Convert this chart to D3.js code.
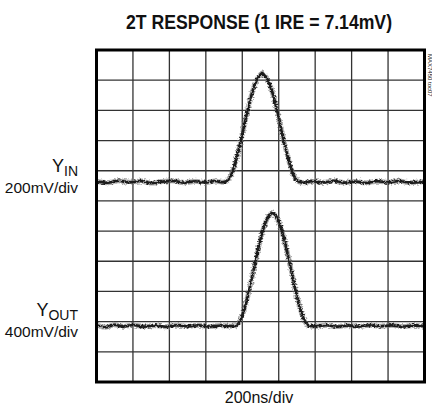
<!DOCTYPE html>
<html>
<head>
<meta charset="utf-8">
<script src="https://cdn.jsdelivr.net/npm/d3@7"></script>
<style>
  html, body { margin: 0; padding: 0; background: #fff; }
  svg { display: block; }
  text { font-family: "Liberation Sans Narrow", "Liberation Sans", sans-serif; fill: #111; }
</style>
</head>
<body>
<div id="chart"></div>
<script>
// data ++++++++++++++++++++++++++++++++++++++++++
// time in ns from the left edge of the screen, voltage in mV from each trace's baseline
const yinTime = [0, 60, 120, 180, 240, 300, 360, 420, 480, 540, 600, 650, 690, 710, 735, 760, 785, 810, 835, 860, 885, 900, 910, 920, 935, 960, 985, 1010, 1035, 1060, 1085, 1110, 1140, 1180, 1240, 1300, 1360, 1420, 1480, 1540, 1600, 1660, 1720, 1800];
const yinMv   = [4, -6, 8, -3, 6, -8, 2, 7, -5, 4, -4, 6, -2, 3, 37, 120, 237, 371, 503, 614, 688, 712, 722, 708, 688, 614, 503, 371, 237, 120, 37, 2, -6, 5, -4, 7, -5, 3, -7, 5, -3, 6, -5, 2];

const youtTime = [0, 50, 100, 150, 200, 260, 320, 380, 440, 500, 560, 620, 680, 730, 765, 790, 815, 840, 865, 890, 915, 940, 955, 965, 975, 990, 1015, 1040, 1065, 1090, 1115, 1140, 1165, 1200, 1260, 1320, 1380, 1440, 1500, 1560, 1620, 1680, 1740, 1800];
const youtMv   = [10, -18, 14, -8, 12, -10, 6, -12, 9, -6, 8, -10, 5, -4, 2, 77, 251, 494, 774, 1050, 1282, 1436, 1480, 1500, 1478, 1436, 1282, 1050, 774, 494, 251, 77, 2, -6, 8, -10, 6, -8, 9, -5, 7, -9, 6, -4];

const traces = [
  { name: "IN",  time: yinTime,  mv: yinMv,  mvPerDiv: 200, position: 6.63, scale: "200mV/div" },
  { name: "OUT", time: youtTime, mv: youtMv, mvPerDiv: 400, position: 1.86, scale: "400mV/div" }
];

const title = "2T RESPONSE (1 IRE = 7.14mV)";
const xLabel = "200ns/div";
const tocLabel = "MAX7450 toc07";
const nsPerDiv = 200;
const xDivs = 9;
const yDivs = 11;
// data ------------------------------------------

const width = 432, height = 406;
const plot = { left: 96.5, right: 424.5, top: 50, bottom: 382 };

const svg = d3.select("#chart")
  .append("svg")
  .attr("width", width)
  .attr("height", height);

// scope-trace noise (styling only)
const defs = svg.append("defs");
const fuzz = defs.append("filter")
  .attr("id", "fuzz")
  .attr("x", "-5%").attr("y", "-20%")
  .attr("width", "110%").attr("height", "140%");
fuzz.append("feTurbulence")
  .attr("type", "fractalNoise")
  .attr("baseFrequency", "0.45 0.7")
  .attr("numOctaves", 2)
  .attr("seed", 5)
  .attr("result", "noise");
fuzz.append("feDisplacementMap")
  .attr("in", "SourceGraphic")
  .attr("in2", "noise")
  .attr("scale", 4)
  .attr("xChannelSelector", "R")
  .attr("yChannelSelector", "G")
  .attr("result", "disp");
fuzz.append("feGaussianBlur")
  .attr("in", "disp")
  .attr("stdDeviation", 0.45);

// scales
const x = d3.scaleLinear().domain([0, nsPerDiv * xDivs]).range([plot.left, plot.right]);
const y = d3.scaleLinear().domain([0, yDivs]).range([plot.bottom, plot.top]);

// grid
const grid = svg.append("g").attr("class", "grid");
grid.selectAll("line.v")
  .data(d3.range(1, xDivs))
  .enter().append("line")
  .attr("class", "v")
  .attr("x1", d => x(d * nsPerDiv)).attr("x2", d => x(d * nsPerDiv))
  .attr("y1", plot.top).attr("y2", plot.bottom)
  .attr("stroke", "#333").attr("stroke-width", 1.3);
grid.selectAll("line.h")
  .data(d3.range(1, yDivs))
  .enter().append("line")
  .attr("class", "h")
  .attr("x1", plot.left).attr("x2", plot.right)
  .attr("y1", d => y(d)).attr("y2", d => y(d))
  .attr("stroke", "#333").attr("stroke-width", 1.3);

// traces
const line = d3.line().curve(d3.curveMonotoneX);
const traceGroup = svg.append("g").attr("class", "traces");
traces.forEach(t => {
  const pts = t.time.map((tm, i) => [x(tm), y(t.position + t.mv[i] / t.mvPerDiv)]);
  traceGroup.append("path")
    .attr("d", line(pts))
    .attr("fill", "none")
    .attr("stroke", "#777")
    .attr("stroke-width", 5)
    .attr("stroke-opacity", 0.6)
    .attr("filter", "url(#fuzz)");
  traceGroup.append("path")
    .attr("d", line(pts))
    .attr("fill", "none")
    .attr("stroke", "#1a1a1a")
    .attr("stroke-width", 2.6)
    .attr("filter", "url(#fuzz)");
});

// frame
svg.append("rect")
  .attr("x", plot.left).attr("y", plot.top)
  .attr("width", plot.right - plot.left)
  .attr("height", plot.bottom - plot.top)
  .attr("fill", "none")
  .attr("stroke", "#000")
  .attr("stroke-width", 3);

// title
svg.append("text")
  .attr("x", 259)
  .attr("y", 29)
  .attr("text-anchor", "middle")
  .attr("font-size", 20)
  .attr("font-weight", "bold")
  .attr("textLength", 266)
  .attr("lengthAdjust", "spacingAndGlyphs")
  .text(title);

// channel labels
const labelX = 78;
traces.forEach(t => {
  const base = y(t.position);
  const name = svg.append("text")
    .attr("x", labelX)
    .attr("y", base - 10)
    .attr("text-anchor", "end");
  name.append("tspan").attr("font-size", 18).text("Y");
  name.append("tspan").attr("font-size", 14).attr("dy", 4).text(t.name);
  svg.append("text")
    .attr("x", labelX)
    .attr("y", base + 11)
    .attr("text-anchor", "end")
    .attr("font-size", 15.5)
    .text(t.scale);
});

// x label
svg.append("text")
  .attr("x", 259)
  .attr("y", 403)
  .attr("text-anchor", "middle")
  .attr("font-size", 16)
  .text(xLabel);

// toc label
svg.append("text")
  .attr("transform", `translate(428,${plot.top + 4}) rotate(90)`)
  .attr("font-size", 6)
  .attr("fill", "#666")
  .text(tocLabel);
</script>
</body>
</html>
